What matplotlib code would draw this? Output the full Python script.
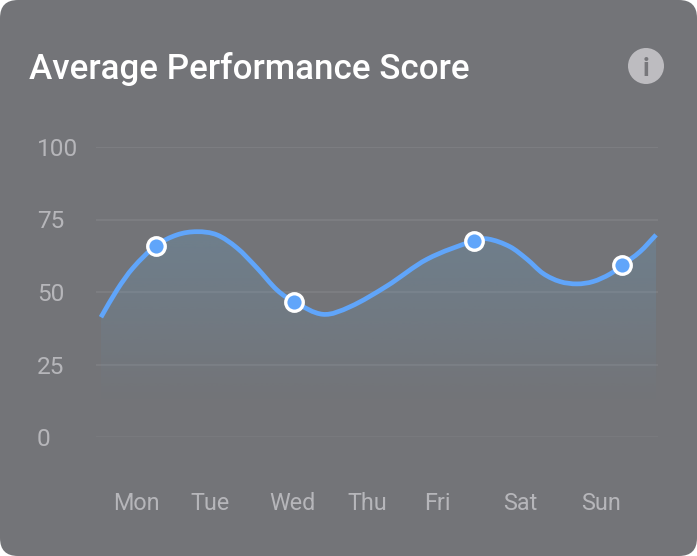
import numpy as np
import matplotlib
matplotlib.use("Agg")
import matplotlib.pyplot as plt
from matplotlib.patches import FancyBboxPatch, Circle, PathPatch
from matplotlib.path import Path

plt.rcParams['font.family'] = ['Roboto', 'DejaVu Sans']

W, H = 697, 556

# curve, x in days from Mon
curve_x = [-0.452, -0.245, -0.039, 0.255, 0.529, 0.787, 1.045, 1.303, 1.561, 1.819, 2.040, 2.413,
           2.761, 3.239, 3.755, 4.364, 4.540, 4.826, 5.045, 5.252, 5.471, 5.690, 5.897, 6.116,
           6.274, 6.503, 6.710]
curve_y = [41.3, 50.7, 58.3, 65.9, 69.7, 70.8, 69.7, 65.2, 58.3, 50.7, 46.6, 42.3,
           44.9, 52.1, 61.3, 67.7, 68.3, 65.6, 61.3, 56.4, 53.6, 52.8, 53.6, 56.2,
           59.3, 63.9, 69.7]
point_x = [0.255, 2.040, 4.364, 6.274]
point_y = [65.9, 46.6, 67.7, 59.3]
day_pos = [0, 0.955, 2.013, 2.981, 3.884, 4.955, 6]
day_labels = ['Mon', 'Tue', 'Wed', 'Thu', 'Fri', 'Sat', 'Sun']
y_ticks = [0, 25, 50, 75, 100]

BG = '#737478'
BLUE = '#60A5FA'
GRID = '#7F8084'
LABEL = '#B6B6BA'


def smooth_path(xs, ys, close_at=None):
    # hermite through the read points, as bezier segments
    x = np.array(xs)
    y = np.array(ys)
    m = np.gradient(y, x)
    m[1:-1] = (y[2:] - y[:-2]) / (x[2:] - x[:-2])
    verts = [(x[0], y[0])]
    codes = [Path.MOVETO]
    for i in range(len(x) - 1):
        h = x[i + 1] - x[i]
        verts += [(x[i] + h / 3, y[i] + m[i] * h / 3),
                  (x[i + 1] - h / 3, y[i + 1] - m[i + 1] * h / 3),
                  (x[i + 1], y[i + 1])]
        codes += [Path.CURVE4] * 3
    if close_at is not None:
        verts += [(x[-1], close_at), (x[0], close_at), (x[0], y[0])]
        codes += [Path.LINETO, Path.LINETO, Path.CLOSEPOLY]
    return Path(verts, codes)


fig = plt.figure(figsize=(W / 100, H / 100), dpi=100, facecolor='white')

# card + title in pixel coordinates
bg = fig.add_axes([0, 0, 1, 1])
bg.set_xlim(0, W)
bg.set_ylim(H, 0)
bg.axis('off')
bg.add_patch(FancyBboxPatch((0, 0), W, H, boxstyle='round,pad=0,rounding_size=18',
                            fc=BG, ec='none'))
bg.text(29, 66, 'Average Performance Score', color='white', fontsize=25.2,
        fontweight='medium', ha='left', va='center_baseline')
bg.add_patch(Circle((646, 66), 18, fc='#BDBCC0', ec='none'))
bg.text(646, 66, 'i', color='#77777B', fontsize=18, fontweight='bold',
        ha='center', va='center_baseline')

# plot area: gridlines run 96-658 px, 100 at 147 px and 0 at 437 px
ax = fig.add_axes([96 / W, 1 - 437 / H, 562 / W, 290 / H])
ax.patch.set_visible(False)
for s in ax.spines.values():
    s.set_visible(False)

ax.set_yticks(y_ticks)
ax.set_xticks(day_pos)
ax.set_xticklabels(day_labels)
ax.tick_params(axis='y', length=0, labelsize=17.6, labelcolor=LABEL, pad=42.5)
ax.tick_params(axis='x', length=0, labelsize=16.8, labelcolor=LABEL, pad=39.5)
for lab in ax.get_yticklabels():
    lab.set_ha('left')
for v in y_ticks:
    ax.axhline(v, color=GRID if v else '#7A7B7F', lw=1.1, zorder=1)

# gradient under the curve
rgba = np.zeros((256, 1, 4))
rgba[..., :3] = matplotlib.colors.to_rgb('#5FA8D8')
rgba[..., 3] = np.linspace(0.22, 0, 256)[:, None]
grad = ax.imshow(rgba, extent=[curve_x[0], curve_x[-1], 12, 72], origin='upper',
                 aspect='auto', zorder=2)
grad.set_clip_path(PathPatch(smooth_path(curve_x, curve_y, close_at=12),
                             transform=ax.transData))

ax.add_patch(PathPatch(smooth_path(curve_x, curve_y), fc='none', ec=BLUE, lw=3.4,
                       capstyle='butt', zorder=3, clip_on=False))
ax.plot(point_x, point_y, ls='none', marker='o', ms=12.6, mfc=BLUE, mec='white',
        mew=2.4, zorder=4, clip_on=False)

ax.set_xlim(-0.516, 6.735)
ax.set_ylim(0, 100)

fig.savefig('out.png', dpi=100, facecolor='white')
